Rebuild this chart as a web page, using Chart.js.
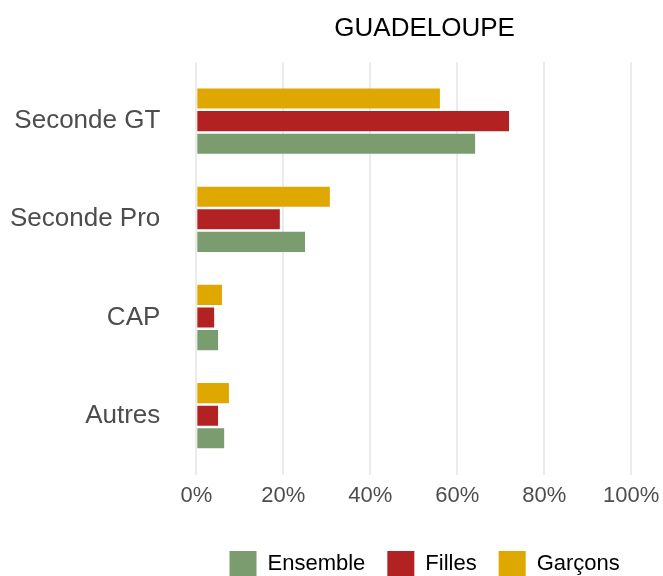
<!DOCTYPE html>
<html>
<head>
<meta charset="utf-8">
<script src="https://cdn.jsdelivr.net/npm/chart.js@4"></script>
<style>
  body { margin: 0; background: #fff; }
</style>
</head>
<body>
<canvas id="myChart" width="663" height="576"></canvas>
<script>
const categories = ['Seconde GT', 'Seconde Pro', 'CAP', 'Autres']
const ensemble = [64.1, 25.0, 5.0, 6.4]
const filles = [71.9, 19.2, 4.1, 5.0]
const garcons = [56.0, 30.7, 5.9, 7.5]
const xTicks = [0, 20, 40, 60, 80, 100]

const grey = '#4d4d4d'
Chart.defaults.font.family = '"Liberation Sans", Arial, sans-serif'

const ctx = document.getElementById('myChart')
const myChart = new Chart(ctx, {
    type: 'bar',
    data: {
        labels: categories,
        // garcons first so it sits on top of each group
        datasets: [
            { label: 'Garçons', data: garcons, backgroundColor: '#dea800' },
            { label: 'Filles', data: filles, backgroundColor: '#b22222' },
            { label: 'Ensemble', data: ensemble, backgroundColor: '#7a9c6f' }
        ]
    },
    options: {
        indexAxis: 'y',
        responsive: false,
        animation: false,
        categoryPercentage: 0.69,
        barPercentage: 0.89,
        layout: { padding: { left: 10, right: 10, top: 0, bottom: -10 } },
        scales: {
            x: {
                min: 0,
                max: 105,
                afterBuildTicks: (scale) => {
                    scale.ticks = xTicks.map(v => ({ value: v }))
                },
                afterFit: (scale) => {
                    scale.height += 12
                    // 100% sits inside the panel, no extra room needed on the right
                    scale.paddingRight = 0
                },
                border: { display: false },
                grid: { color: '#ebebeb', lineWidth: 2, drawTicks: false },
                ticks: {
                    color: grey,
                    font: { size: 22 },
                    padding: 8,
                    callback: (v) => v + '%'
                }
            },
            y: {
                offset: false,
                // extra room above the first and below the last group
                afterBuildTicks: (scale) => {
                    scale._startValue = -0.6
                    scale._valueRange = categories.length - 1 + 1.2
                },
                // the tick padding gets counted twice in the axis width
                afterFit: (scale) => { scale.width -= scale.options.ticks.padding },
                border: { display: false },
                grid: { display: false, drawTicks: false },
                ticks: { color: grey, font: { size: 26 }, padding: 36 }
            }
        },
        plugins: {
            tooltip: { enabled: false },
            title: {
                display: true,
                text: 'GUADELOUPE',
                fullSize: false,
                color: '#000',
                font: { size: 26, weight: 'normal' },
                padding: { top: 13, bottom: 18 }
            },
            legend: {
                position: 'bottom',
                fullSize: false,
                reverse: true,
                labels: {
                    color: '#000',
                    font: { size: 22 },
                    boxWidth: 27,
                    boxHeight: 25,
                    padding: 22
                }
            }
        }
    }
})
</script>
</body>
</html>
